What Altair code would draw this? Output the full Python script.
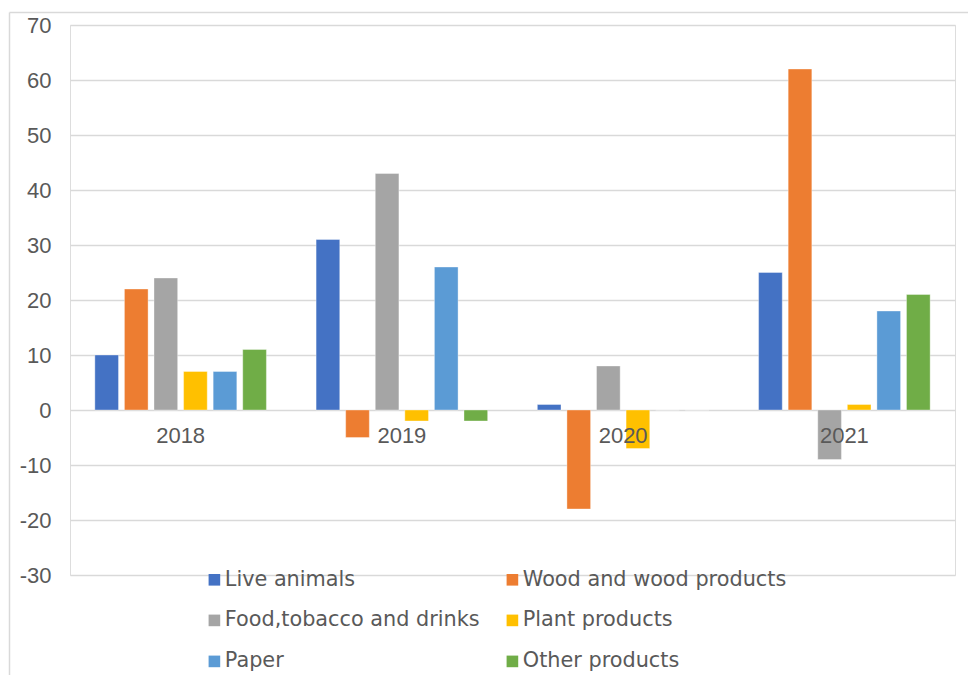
import altair as alt
import pandas as pd

years = ["2018", "2019", "2020", "2021"]
series = ["Live animals", "Wood and wood products", "Food,tobacco and drinks",
          "Plant products", "Paper", "Other products"]
live = [10, 31, 1, 25]
wood = [22, -5, -18, 62]
food = [24, 43, 8, -9]
plant = [7, -2, -7, 1]
paper = [7, 26, 0, 18]
other = [11, -2, 0, 21]
colors = ["#4472C4", "#ED7D31", "#A5A5A5", "#FFC000", "#5B9BD5", "#70AD47"]
y_ticks = [-30, -20, -10, 0, 10, 20, 30, 40, 50, 60, 70]

rows = []
for s, vals in zip(series, [live, wood, food, plant, paper, other]):
    for yr, v in zip(years, vals):
        rows.append({"year": yr, "series": s, "value": v})
df = pd.DataFrame(rows)

# legend fills column by column: reorder so rows read left-to-right like the original
legend_order = [0, 2, 4, 1, 3, 5]
legend_domain = [series[i] for i in legend_order]
legend_range = [colors[i] for i in legend_order]

W, H = 885, 550
FONT = "Liberation Sans"
LFONT = "DejaVu Sans"
GREY = "#595959"

bars = alt.Chart(df).mark_bar(stroke="#ffffff", strokeWidth=0.6, strokeOpacity=0.6).encode(
    x=alt.X("year:N", sort=years,
            scale=alt.Scale(paddingInner=0, paddingOuter=0),
            axis=alt.Axis(title=None, domain=False, ticks=False, grid=False,
                          labelAngle=0, offset=-165, zindex=1,
                          labelFontSize=22, labelColor=GREY, labelFont=FONT,
                          labelPadding=15)),
    xOffset=alt.XOffset("series:N", sort=series,
                        scale=alt.Scale(paddingInner=0.2, paddingOuter=0.84)),
    y=alt.Y("value:Q", scale=alt.Scale(domain=[-30, 70], nice=False, zero=False),
            axis=alt.Axis(title=None, values=y_ticks, domain=False, ticks=False,
                          grid=True, gridColor="#d9d9d9", gridWidth=1.5,
                          labelFontSize=22, labelColor=GREY, labelFont=FONT,
                          labelPadding=19,
                          labelExpr="datum.value < 0 ? '-' + abs(datum.value) : '' + datum.value")),
    color=alt.Color("series:N",
                    scale=alt.Scale(domain=legend_domain, range=legend_range),
                    legend=alt.Legend(title=None, orient="none", legendX=134, legendY=544,
                                      columns=2, columnPadding=22, rowPadding=19,
                                      symbolType="square", symbolSize=135,
                                      symbolStrokeWidth=0, symbolOpacity=1,
                                      labelFontSize=20.8, labelColor=GREY, labelFont=LFONT,
                                      labelOffset=0, labelLimit=400, padding=0)),
)

frame = pd.DataFrame({"k": [0]})
left_border = alt.Chart(frame).mark_rule(color="#d9d9d9", strokeWidth=1.5).encode(
    x=alt.value(-60.5), y=alt.value(-12.5), y2=alt.value(H + 110))
top_border = alt.Chart(frame).mark_rule(color="#d9d9d9", strokeWidth=1.5).encode(
    x=alt.value(-60.5), x2=alt.value(W + 30), y=alt.value(-12.5))

chart = alt.layer(left_border, top_border, bars).properties(
    width=W, height=H,
    autosize=alt.AutoSizeParams(type="none"),
    padding={"left": 62, "top": 17, "right": 13, "bottom": 100},
).configure_view(stroke=None).configure(background="#ffffff")

chart.save("out.html", embed_options={"renderer": "svg", "actions": False})
